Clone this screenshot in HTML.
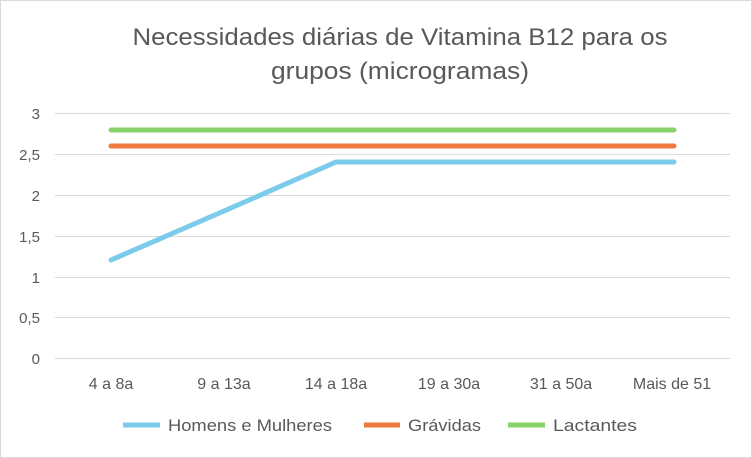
<!DOCTYPE html>
<html><head><meta charset="utf-8"><style>
body{margin:0;background:#fff}
svg{display:block}
text{font-family:"Liberation Sans",sans-serif;fill:#595959}
</style></head><body>
<svg width="752" height="458" viewBox="0 0 752 458">
<rect x="0.5" y="0.5" width="751" height="457" fill="#fff" stroke="#d9d9d9"/>
<text x="400" y="45" font-size="24" text-anchor="middle" textLength="535" lengthAdjust="spacingAndGlyphs">Necessidades diárias de Vitamina B12 para os</text>
<text x="400" y="79" font-size="24" text-anchor="middle" textLength="258" lengthAdjust="spacingAndGlyphs">grupos (microgramas)</text>
<g stroke="#d9d9d9" stroke-width="1">
<line x1="55" y1="113.5" x2="730" y2="113.5"/>
<line x1="55" y1="154.5" x2="730" y2="154.5"/>
<line x1="55" y1="195.5" x2="730" y2="195.5"/>
<line x1="55" y1="236.5" x2="730" y2="236.5"/>
<line x1="55" y1="277.5" x2="730" y2="277.5"/>
<line x1="55" y1="317.5" x2="730" y2="317.5"/>
<line x1="55" y1="358.5" x2="730" y2="358.5"/>
</g>
<g font-size="15" text-anchor="end">
<text x="40" y="119">3</text><text x="40" y="160">2,5</text><text x="40" y="201">2</text>
<text x="40" y="242">1,5</text><text x="40" y="283">1</text><text x="40" y="323">0,5</text><text x="40" y="364">0</text>
</g>
<g font-size="16" text-anchor="middle">
<text x="111" y="389">4 a 8a</text><text x="224" y="389">9 a 13a</text><text x="336" y="389">14 a 18a</text>
<text x="449" y="389">19 a 30a</text><text x="561" y="389">31 a 50a</text><text x="672" y="389">Mais de 51</text>
</g>
<g fill="none" stroke-width="5" stroke-linecap="round" stroke-linejoin="round">
<polyline stroke="#7ccbeb" points="111,260 224,211 336,162 449,162 561,162 674,162"/>
<polyline stroke="#ee7a3d" points="111,146 674,146"/>
<polyline stroke="#89d26a" points="111,130 674,130"/>
</g>
<line x1="123" y1="425" x2="160" y2="425" stroke="#7ccbeb" stroke-width="5"/>
<text x="168" y="431" font-size="17" textLength="164" lengthAdjust="spacingAndGlyphs">Homens e Mulheres</text>
<line x1="364" y1="425" x2="400" y2="425" stroke="#ee7a3d" stroke-width="5"/>
<text x="408" y="431" font-size="17" textLength="73" lengthAdjust="spacingAndGlyphs">Grávidas</text>
<line x1="508" y1="425" x2="545" y2="425" stroke="#89d26a" stroke-width="5"/>
<text x="553" y="431" font-size="17" textLength="84" lengthAdjust="spacingAndGlyphs">Lactantes</text>
</svg>
</body></html>
